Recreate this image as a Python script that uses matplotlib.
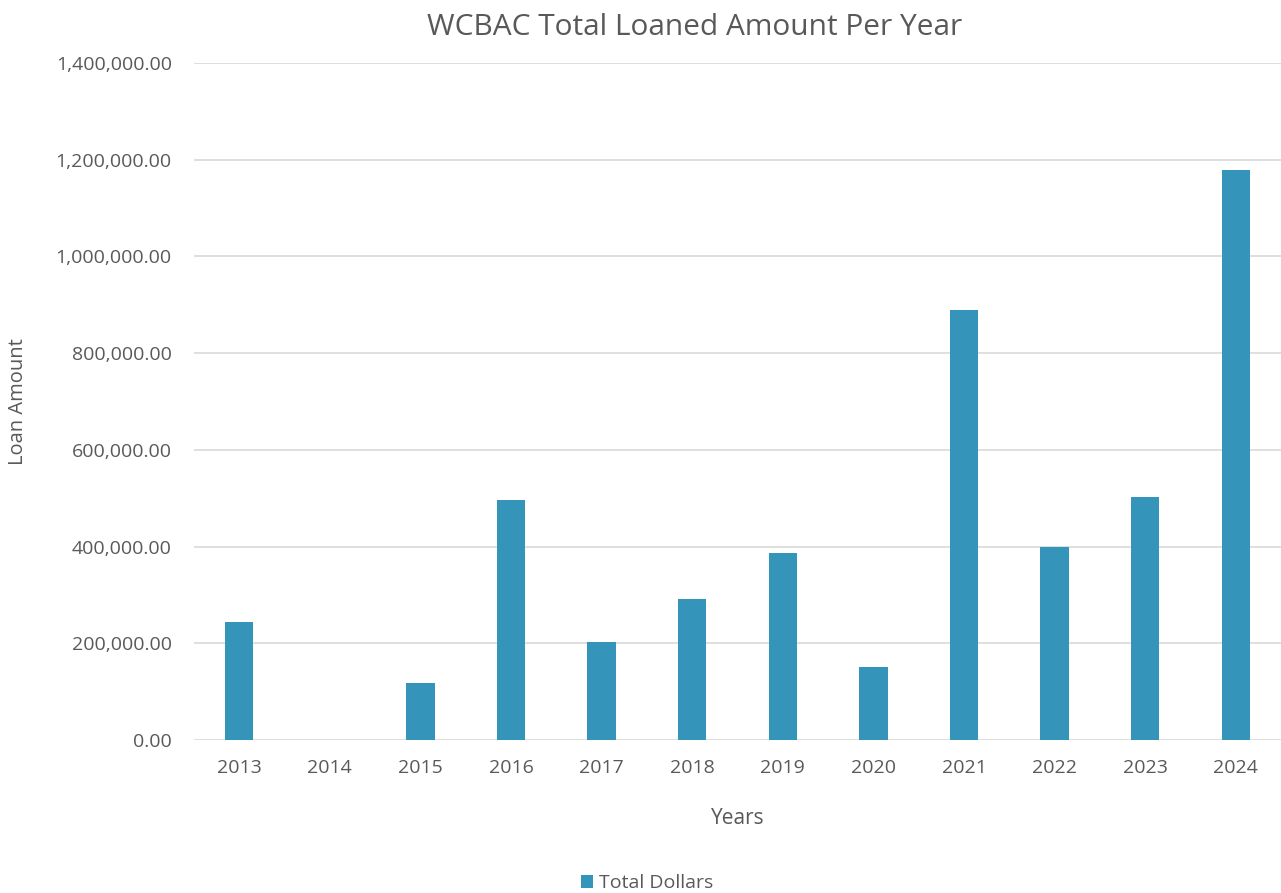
import matplotlib.pyplot as plt
from matplotlib.ticker import FuncFormatter

# data
years = ['2013', '2014', '2015', '2016', '2017', '2018', '2019', '2020', '2021', '2022', '2023', '2024']
total_dollars = [245000, 0, 117500, 496500, 202500, 291500, 386500, 151000, 889000, 399000, 502500, 1179500]

plt.rcParams['font.family'] = ['Open Sans', 'DejaVu Sans']
text_color = '#595959'

fig = plt.figure(figsize=(12.81, 8.93), dpi=100)
ax = fig.add_axes([0.1514, 0.1713, 0.8486, 0.7581])

ax.bar(years, total_dollars, width=0.313, color='#3494BA', label='Total Dollars', zorder=3)

ax.set_ylim(0, 1400000)
ax.set_yticks(range(0, 1400001, 200000))
ax.yaxis.set_major_formatter(FuncFormatter(lambda v, p: f'{v:,.2f}'))
ax.set_xlim(-0.5, len(years) - 0.5)

ax.grid(axis='y', color='#d9d9d9', linewidth=1.2, zorder=0)
for s in ax.spines.values():
    s.set_visible(False)
ax.tick_params(length=0, labelsize=14, colors=text_color)
ax.tick_params(axis='y', pad=16)
ax.tick_params(axis='x', pad=14)

fig.text(0.5426, 0.969, 'WCBAC Total Loaned Amount Per Year', fontsize=21.5,
         color=text_color, ha='center', va='center')
ax.set_xlabel('Years', fontsize=15, color=text_color, labelpad=22)
ax.set_ylabel('Loan Amount', fontsize=14.5, color=text_color, labelpad=20)

leg = fig.legend(loc='lower center', bbox_to_anchor=(0.505, -0.019), frameon=False,
                 fontsize=14, handlelength=0.6, handleheight=0.6, handletextpad=0.3)
for t in leg.get_texts():
    t.set_color(text_color)

fig.savefig('out.png', dpi=100)
